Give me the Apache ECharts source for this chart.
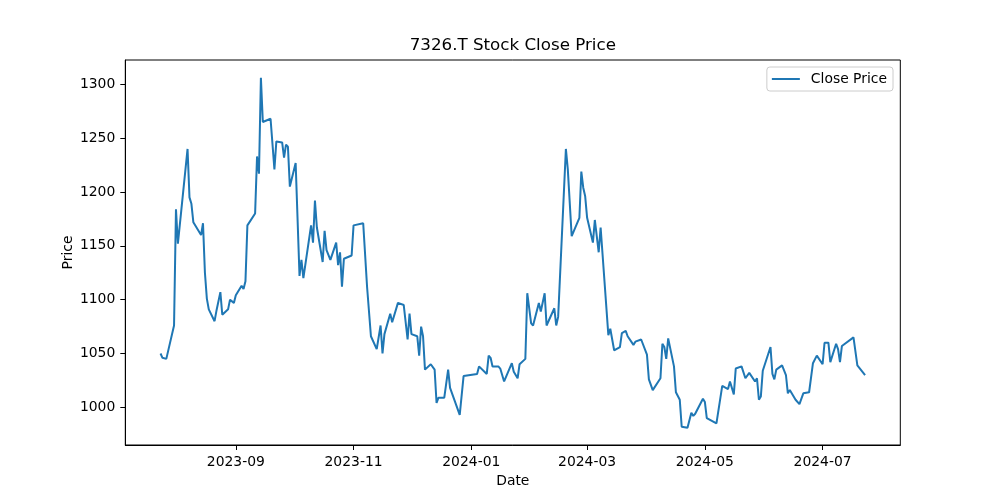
<!DOCTYPE html>
<html>
<head>
<meta charset="utf-8">
<script src="https://cdn.jsdelivr.net/npm/echarts@6/dist/echarts.min.js"></script>
<style>
html,body{margin:0;padding:0;background:#fff;}
#chart{width:1000px;height:500px;}
</style>
</head>
<body>
<div id="chart"></div>
<script>
const dates = [
'2023-07-24','2023-07-25','2023-07-26','2023-07-27','2023-07-31','2023-08-01','2023-08-02','2023-08-07','2023-08-08','2023-08-09',
'2023-08-10','2023-08-14','2023-08-15','2023-08-16','2023-08-17','2023-08-18','2023-08-21','2023-08-22','2023-08-23','2023-08-24',
'2023-08-25','2023-08-28','2023-08-29','2023-08-31','2023-09-01','2023-09-04','2023-09-05','2023-09-06','2023-09-07','2023-09-11',
'2023-09-12','2023-09-13','2023-09-14','2023-09-15','2023-09-19','2023-09-21','2023-09-22','2023-09-25','2023-09-26','2023-09-27',
'2023-09-28','2023-09-29','2023-10-02','2023-10-04','2023-10-05','2023-10-06','2023-10-10','2023-10-11','2023-10-12','2023-10-13',
'2023-10-16','2023-10-17','2023-10-18','2023-10-19','2023-10-20','2023-10-23','2023-10-24','2023-10-25','2023-10-26','2023-10-27',
'2023-10-31','2023-11-01','2023-11-06','2023-11-08','2023-11-10','2023-11-13','2023-11-15','2023-11-16','2023-11-17','2023-11-20',
'2023-11-21','2023-11-24','2023-11-27','2023-11-29','2023-11-30','2023-12-01','2023-12-04','2023-12-05','2023-12-06','2023-12-07',
'2023-12-08','2023-12-11','2023-12-13','2023-12-14','2023-12-15','2023-12-18','2023-12-20','2023-12-21','2023-12-22','2023-12-26',
'2023-12-28','2024-01-04','2024-01-05','2024-01-09','2024-01-10','2024-01-11','2024-01-12','2024-01-15','2024-01-16','2024-01-18',
'2024-01-22','2024-01-23','2024-01-25','2024-01-26','2024-01-29','2024-01-30','2024-02-01','2024-02-02','2024-02-05','2024-02-06',
'2024-02-08','2024-02-09','2024-02-13','2024-02-14','2024-02-15','2024-02-19','2024-02-20','2024-02-22','2024-02-26','2024-02-27',
'2024-02-28','2024-02-29','2024-03-01','2024-03-04','2024-03-05','2024-03-07','2024-03-08','2024-03-12','2024-03-13','2024-03-15',
'2024-03-18','2024-03-19','2024-03-21','2024-03-22','2024-03-25','2024-03-26','2024-03-29','2024-04-01','2024-04-02','2024-04-04',
'2024-04-08','2024-04-09','2024-04-10','2024-04-11','2024-04-12','2024-04-15','2024-04-16','2024-04-18','2024-04-19','2024-04-22',
'2024-04-24','2024-04-25','2024-04-26','2024-04-30','2024-05-01','2024-05-02','2024-05-07','2024-05-08','2024-05-10','2024-05-13',
'2024-05-14','2024-05-16','2024-05-17','2024-05-20','2024-05-21','2024-05-22','2024-05-24','2024-05-27','2024-05-28','2024-05-29',
'2024-05-30','2024-05-31','2024-06-04','2024-06-05','2024-06-06','2024-06-07','2024-06-10','2024-06-11','2024-06-12','2024-06-13',
'2024-06-14','2024-06-17','2024-06-18','2024-06-19','2024-06-21','2024-06-24','2024-06-26','2024-06-27','2024-06-28','2024-07-01',
'2024-07-02','2024-07-03','2024-07-04','2024-07-05','2024-07-08','2024-07-09','2024-07-10','2024-07-11','2024-07-17','2024-07-19',
'2024-07-23'
];
const closes = [
1050,1046,1046,1045,1076,1184,1152,1240,1195,1189,
1172,1160,1171,1125,1101,1091,1080,1090,1090,1107,
1086,1091,1100,1097,1104,1113,1110,1117,1169,1180,
1233,1217,1306,1265,1268,1221,1247,1246,1232,1244,
1242,1205,1227,1122,1137,1120,1169,1153,1192,1167,
1135,1164,1146,1145,1137,1153,1132,1144,1112,1138,
1141,1169,1171,1112,1066,1054,1076,1050,1068,1087,
1079,1097,1095,1063,1087,1068,1066,1048,1075,1066,
1035,1040,1035,1004,1009,1009,1035,1018,1017,993,
1029,1031,1038,1031,1048,1046,1038,1038,1036,1024,
1041,1033,1027,1040,1045,1106,1078,1076,1097,1089,
1106,1076,1092,1076,1084,1240,1221,1159,1176,1219,
1204,1196,1176,1153,1174,1144,1167,1067,1073,1053,
1056,1069,1071,1066,1058,1061,1063,1049,1026,1016,
1027,1059,1056,1045,1064,1038,1014,1007,982,981,
995,992,994,1008,1005,990,985,986,1020,1017,
1024,1012,1036,1038,1037,1027,1032,1024,1027,1007,
1010,1034,1056,1031,1026,1035,1039,1040,1030,1013,
1016,1007,1006,1003,1013,1014,1041,1040,1048,1040,
1060,1059,1060,1042,1059,1054,1042,1057,1065,1039,
1030
];
const xTickLabels = ['2023-09','2023-11','2024-01','2024-03','2024-05','2024-07'];
const yTickValues = [1000,1050,1100,1150,1200,1250,1300];

function parseDay(s){
  const p = s.split('-').map(Number);
  return Date.UTC(p[0], p[1]-1, p[2] || 1);
}
function pad2(n){ return (n < 10 ? '0' : '') + n; }
const firstT = parseDay(dates[0]);
const lastT = parseDay(dates[dates.length-1]);
const margin = (lastT - firstT) * 0.05;
const xTickValues = xTickLabels.map(parseDay);

const FONT = 'DejaVu Sans';
const chart = echarts.init(document.getElementById('chart'), null, {renderer:'canvas'});
chart.setOption({
  animation: false,
  backgroundColor: '#ffffff',
  textStyle: {fontFamily: FONT},
  title: {
    text: '7326.T Stock Close Price',
    left: 512.8,
    top: 37,
    padding: 0,
    textAlign: 'center',
    textStyle: {fontFamily: FONT, fontSize: 16.7, fontWeight: 'normal', color: '#000'}
  },
  legend: {
    right: 107,
    top: 67,
    orient: 'vertical',
    padding: [5, 6, 5, 5],
    itemWidth: 28,
    itemHeight: 2,
    borderColor: '#cccccc',
    borderWidth: 1,
    borderRadius: 3,
    backgroundColor: 'rgba(255,255,255,0.8)',
    textStyle: {fontFamily: FONT, fontSize: 13.9, color: '#000', padding: [0, 0, 0, 6]},
    data: [{name: 'Close Price', icon: 'rect'}]
  },
  grid: {
    left: 125.3, right: 99.7, top: 60, bottom: 55,
    containLabel: false,
    outerBoundsMode: 'none',
    show: true,
    borderColor: '#000',
    borderWidth: 1,
    backgroundColor: 'transparent'
  },
  xAxis: {
    type: 'value',
    min: firstT - margin,
    max: lastT + margin,
    name: 'Date',
    nameLocation: 'middle',
    nameGap: 29,
    nameMoveOverlap: false,
    nameTextStyle: {fontFamily: FONT, fontSize: 13.9, color: '#000'},
    axisLine: {show: true, lineStyle: {color: '#000', width: 1}},
    axisTick: {show: true, length: 5, inside: false, customValues: xTickValues, lineStyle: {color: '#000', width: 1}},
    axisLabel: {
      customValues: xTickValues,
      margin: 10,
      fontFamily: FONT, fontSize: 13.9, color: '#000',
      hideOverlap: false,
      formatter: function(v){ const d = new Date(v); return d.getUTCFullYear() + '-' + pad2(d.getUTCMonth()+1); }
    },
    splitLine: {show: false}
  },
  yAxis: {
    type: 'value',
    min: 965,
    max: 1322.6,
    name: 'Price',
    nameLocation: 'middle',
    nameGap: 50,
    nameRotate: 90,
    nameMoveOverlap: false,
    nameTextStyle: {fontFamily: FONT, fontSize: 13.9, color: '#000'},
    axisLine: {show: true, lineStyle: {color: '#000', width: 1}},
    axisTick: {show: true, length: 5, inside: false, customValues: yTickValues, lineStyle: {color: '#000', width: 1}},
    axisLabel: {
      customValues: yTickValues, margin: 10, fontFamily: FONT, fontSize: 13.9, color: '#000',
      formatter: function(v){ return String(v); }
    },
    splitLine: {show: false}
  },
  series: [{
    name: 'Close Price',
    type: 'line',
    showSymbol: false,
    symbol: 'none',
    data: dates.map((d, i) => [parseDay(d), closes[i]]),
    lineStyle: {color: '#1f77b4', width: 2},
    itemStyle: {color: '#1f77b4'},
    emphasis: {disabled: true}
  }]
});
</script>
</body>
</html>
